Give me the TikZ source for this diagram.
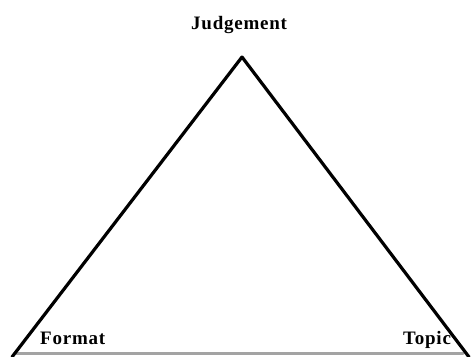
\documentclass[tikz,border=0pt]{standalone}
\usepackage{fontspec}
\setmainfont{Liberation Serif}
\newfontfamily\tagfont[LetterSpace=4]{Liberation Serif}
\usepackage{tkz-euclide}
\definecolor{SideClr}{rgb}{0,0,0}
\definecolor{BaseClr}{rgb}{0.64,0.64,0.64}

\begin{document}
\begin{tikzpicture}[x=1pt,y=1pt,
  tag/.style={font=\tagfont\bfseries\fontsize{19}{21}\selectfont,inner sep=0pt,anchor=base west}]
\tkzSetUpLine[line width=3.2pt,color=SideClr]
\useasboundingbox (0,0) rectangle (473,356);
\clip (0,0) rectangle (473,356);

\tkzDefPoints{242/299/J,12/-1/F,469/-1/T}
\tkzDefPoints{15/2.5/FF,463/2.5/TT}

\tkzDrawSegments[line width=3pt,color=BaseClr](FF,TT)
\tkzDrawSegments[line width=3.2pt,color=SideClr](F,J J,T)

\node[tag] (judgement) at (191,326) {Judgement};
\node[tag] (format) at (40,12) {Format};
\node[tag] (topic) at (403,12) {Topic};

\end{tikzpicture}
\end{document}
